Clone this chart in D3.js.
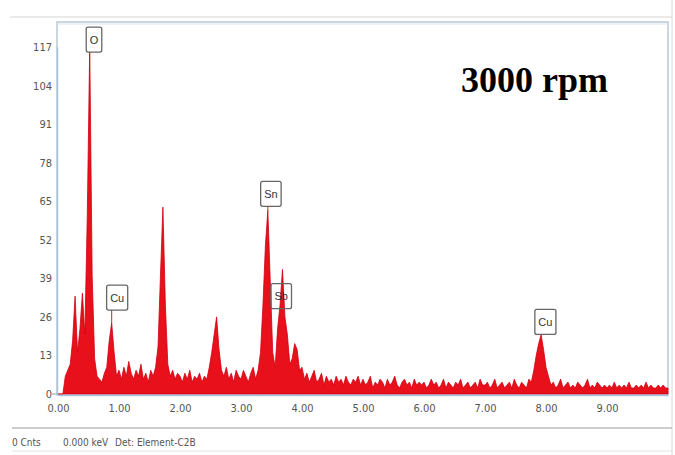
<!DOCTYPE html>
<html>
<head>
<meta charset="utf-8">
<script src="https://cdn.jsdelivr.net/npm/d3@7"></script>
<style>
  body { margin: 0; background: #fff; }
  svg { display: block; }
</style>
</head>
<body>
<svg width="675" height="455"></svg>
<script>
// EDS spectrum, counts per 0.04 keV channel
const kevStep = 0.04;
const counts = [
  // 0.00 - 0.96
  0, 0, 0, 6, 8, 10, 18, 33, 14, 22, 34, 20, 60, 117, 40, 12, 6, 5, 4, 7, 9, 18, 24, 14, 6,
  // 1.00 - 1.96
  8, 5, 9, 6, 11, 7, 5, 8, 6, 10, 5, 7, 4, 8, 6, 9, 16, 40, 63, 30, 10, 6, 8, 5, 7,
  // 2.00 - 2.96
  6, 4, 7, 5, 8, 4, 6, 5, 7, 4, 6, 5, 9, 14, 20, 26, 15, 8, 6, 9, 5, 7, 4, 8, 6,
  // 3.00 - 3.96
  5, 8, 6, 4, 7, 9, 5, 8, 14, 30, 50, 62, 38, 14, 9, 22, 30, 42, 26, 20, 10, 12, 17, 15, 8,
  // 4.00 - 4.96
  9, 5, 7, 4, 6, 8, 4, 5, 7, 3, 6, 4, 5, 3, 6, 4, 5, 3, 6, 4, 3, 5, 4, 6, 3,
  // 5.00 - 5.96
  5, 3, 4, 6, 2, 4, 3, 5, 4, 2, 5, 3, 4, 6, 3, 2, 4, 5, 3, 4, 2, 5, 3, 4, 3,
  // 6.00 - 6.96
  4, 2, 3, 5, 3, 4, 2, 3, 5, 2, 4, 3, 2, 4, 3, 5, 2, 3, 4, 2, 3, 4, 2, 5, 3,
  // 7.00 - 7.96
  3, 4, 2, 3, 5, 2, 3, 4, 2, 3, 4, 2, 5, 3, 2, 4, 3, 2, 5, 4, 8, 13, 17, 20, 15,
  // 8.00 - 8.96
  9, 6, 3, 4, 2, 3, 5, 2, 3, 4, 2, 3, 2, 4, 3, 2, 3, 5, 2, 3, 2, 4, 3, 2, 3,
  // 9.00 - 9.96
  2, 3, 2, 4, 2, 3, 2, 3, 2, 4, 2, 2, 3, 2, 3, 2, 4, 2, 3, 2, 2, 3, 2, 3, 2,
  // 10.00
  2
];

const yTicks = [0, 13, 26, 39, 52, 65, 78, 91, 104, 117];
const xTicks = [0, 1, 2, 3, 4, 5, 6, 7, 8, 9];

// element markers: peak (keV, counts) and where the tag sits (keV, counts)
const elements = ["O", "Cu", "Sn", "Sb", "Cu"];
const peakKev = [0.52, 0.88, 3.44, 3.68, 7.92];
const peakCnt = [117, 24, 62, 42, 20];
const tagKev = [0.59, 0.97, 3.49, 3.66, 7.99];
const tagCnt = [119.5, 32.5, 67.5, 33, 24.3];

const title = "3000 rpm";
const status = ["0 Cnts", "0.000 keV", "Det: Element-C2B"];

const data = counts.map((c, i) => ({kev: i * kevStep, c: c}));

const plotLeft = 57, plotRight = 668, plotTop = 22, plotBottom = 395;

const svg = d3.select("svg");

const x = d3.scaleLinear().domain([0, 10]).range([58, 668]);
const y = d3.scaleLinear().domain([0, 117]).range([394, 47]);

// window chrome
svg.append("line")
  .attr("x1", 10).attr("x2", 672).attr("y1", 17).attr("y2", 17)
  .attr("stroke", "#d4d4d4");
svg.append("line")
  .attr("x1", 672).attr("x2", 672).attr("y1", 0).attr("y2", 455)
  .attr("stroke", "#d8d8d8");
svg.append("line")
  .attr("x1", 12).attr("x2", 672).attr("y1", 428).attr("y2", 428)
  .attr("stroke", "#bdbdbd").attr("stroke-width", 1.5);
svg.append("line")
  .attr("x1", 12).attr("x2", 672).attr("y1", 451).attr("y2", 451)
  .attr("stroke", "#e2e2e2");

// plot frame
svg.append("rect")
  .attr("x", plotLeft).attr("y", plotTop)
  .attr("width", plotRight - plotLeft).attr("height", plotBottom - plotTop)
  .attr("fill", "#fff")
  .attr("stroke", "#b9cad8").attr("stroke-width", 1.5);
svg.append("line")
  .attr("x1", plotLeft).attr("x2", plotRight).attr("y1", plotTop + 2).attr("y2", plotTop + 2)
  .attr("stroke", "#dbe5ee");

// spectrum
const area = d3.area()
  .x(d => x(d.kev))
  .y0(y(0))
  .y1(d => y(d.c));

svg.append("path")
  .datum(data)
  .attr("d", area)
  .attr("fill", "#e8101a")
  .attr("stroke", "#d10010")
  .attr("stroke-width", 0.8)
  .attr("stroke-linejoin", "miter");

// axes
const axisFont = "'Liberation Sans Narrow', 'DejaVu Sans Condensed', sans-serif";

const yAxis = svg.append("g")
  .attr("transform", `translate(${plotLeft},0)`)
  .call(d3.axisLeft(y).tickValues(yTicks).tickSize(0).tickPadding(5));
yAxis.select(".domain").attr("stroke", "#a9c6dc").attr("stroke-width", 1.5);
yAxis.selectAll("text")
  .attr("font-family", axisFont).attr("font-size", 11).attr("fill", "#555");
yAxis.append("line")
  .attr("x1", -5).attr("x2", 0).attr("y1", y(0)).attr("y2", y(0))
  .attr("stroke", "#7fa7c6");

const xAxis = svg.append("g")
  .attr("transform", `translate(0,${plotBottom})`)
  .call(d3.axisBottom(x).tickValues(xTicks).tickFormat(d3.format(".2f")).tickSize(0).tickPadding(9));
xAxis.select(".domain").attr("stroke", "#a9c6dc").attr("stroke-width", 1.5);
xAxis.selectAll("text")
  .attr("font-family", axisFont).attr("font-size", 11).attr("fill", "#555");

// element tags
const tagFont = "'Liberation Sans', 'DejaVu Sans', sans-serif";
elements.forEach((el, i) => {
  const cx = x(tagKev[i]), cy = y(tagCnt[i]);
  const g = svg.append("g");
  const t = g.append("text")
    .attr("x", cx).attr("y", cy + 4)
    .attr("text-anchor", "middle")
    .attr("font-family", tagFont).attr("font-size", 11)
    .attr("fill", "#333")
    .text(el);
  const w = t.node().getComputedTextLength() + 7;
  const h = 25;
  g.insert("rect", "text")
    .attr("x", cx - w / 2).attr("y", cy - h / 2)
    .attr("width", w).attr("height", h)
    .attr("rx", 2)
    .attr("fill", i === 3 ? "none" : "#fff")
    .attr("stroke", "#666").attr("stroke-width", 1.3);
  const top = y(peakCnt[i]);
  if (top > cy + h / 2) {
    svg.append("line")
      .attr("x1", x(peakKev[i])).attr("x2", x(peakKev[i]))
      .attr("y1", cy + h / 2).attr("y2", top)
      .attr("stroke", "#b03030").attr("stroke-width", 1);
  }
});

// title
svg.append("text")
  .attr("x", 461).attr("y", 92)
  .attr("font-family", "'Liberation Serif', 'Times New Roman', serif")
  .attr("font-weight", "bold").attr("font-size", 36)
  .attr("fill", "#000")
  .text(title);

// status bar
const statusX = [12, 63, 115];
status.forEach((s, i) => {
  svg.append("text")
    .attr("x", statusX[i]).attr("y", 446)
    .attr("font-family", axisFont).attr("font-size", 10)
    .attr("fill", "#555")
    .text(s);
});
</script>
</body>
</html>
